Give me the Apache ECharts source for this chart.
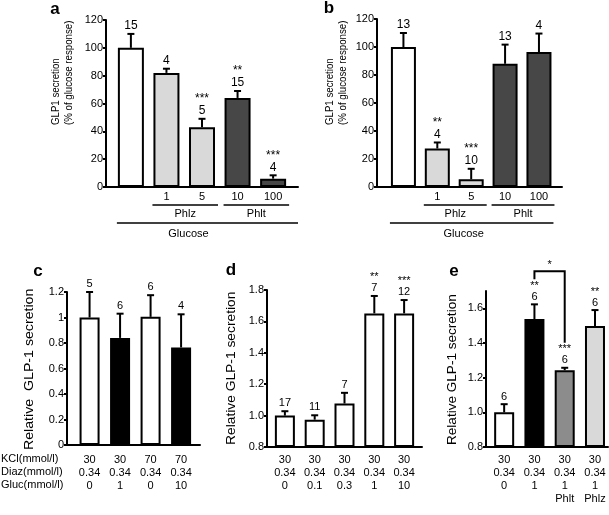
<!DOCTYPE html>
<html><head><meta charset="utf-8">
<script src="https://cdn.jsdelivr.net/npm/echarts@6/dist/echarts.min.js"></script>
<style>html,body{margin:0;padding:0;background:#fff}#c{width:609px;height:515px}</style>
</head><body><div id="c"></div>
<script>
const FONT = "'Liberation Sans', Arial, Helvetica, sans-serif";

// ---------- Panel a ----------
const aXLabels = ['', '1', '5', '10', '100'];
const aValues = [100, 82, 43, 64, 6];
const aErrors = [10, 3, 6, 5, 2.4];
const aN = ['15', '4', '5', '15', '4'];
const aStars = ['', '', '***', '**', '***'];
const aColors = ['#ffffff', '#d9d9d9', '#d9d9d9', '#474747', '#474747'];
const aGroupNames = ['Phlz', 'Phlt'];
const aGroupFirst = [1, 3];
const aGroupLast = [2, 4];
const aOuterName = 'Glucose';

// ---------- Panel b ----------
const bXLabels = ['', '1', '5', '10', '100'];
const bValues = [100, 27.5, 5.5, 88, 96.4];
const bErrors = [10, 4.3, 7.5, 13.7, 13.2];
const bN = ['13', '4', '10', '13', '4'];
const bStars = ['', '**', '***', '', ''];
const bColors = ['#ffffff', '#d9d9d9', '#d9d9d9', '#474747', '#474747'];
const bGroupNames = ['Phlz', 'Phlt'];
const bGroupFirst = [1, 3];
const bGroupLast = [2, 4];
const bOuterName = 'Glucose';

const abYTicks = [0, 20, 40, 60, 80, 100, 120];
const abYTitle = 'GLP1 secretion\n(% of glucose response)';

// ---------- Panel c ----------
const cKCl = ['30', '30', '70', '70'];
const cDiaz = ['0.34', '0.34', '0.34', '0.34'];
const cGluc = ['0', '1', '0', '10'];
const cValues = [1.0, 0.84, 1.005, 0.765];
const cErrors = [0.2, 0.19, 0.17, 0.26];
const cN = ['5', '6', '6', '4'];
const cStars = ['', '', '', ''];
const cColors = ['#ffffff', '#000000', '#ffffff', '#000000'];
const cYTicks = [0, 0.2, 0.4, 0.6, 0.8, 1, 1.2];
const cYTitle = 'Relative  GLP-1 secretion';
const rowHeaders = ['KCl(mmol/l)', 'Diaz(mmol/l)', 'Gluc(mmol/l)'];

// ---------- Panel d ----------
const dKCl = ['30', '30', '30', '30', '30'];
const dDiaz = ['0.34', '0.34', '0.34', '0.34', '0.34'];
const dGluc = ['0', '0.1', '0.3', '1', '10'];
const dValues = [1.0, 0.974, 1.077, 1.651, 1.651];
const dErrors = [0.028, 0.028, 0.068, 0.111, 0.085];
const dN = ['17', '11', '7', '7', '12'];
const dStars = ['', '', '', '**', '***'];
const dColors = ['#ffffff', '#ffffff', '#ffffff', '#ffffff', '#ffffff'];
const dYTicks = [0.8, 1.0, 1.2, 1.4, 1.6, 1.8];

// ---------- Panel e ----------
const eKCl = ['30', '30', '30', '30'];
const eDiaz = ['0.34', '0.34', '0.34', '0.34'];
const eGluc = ['0', '1', '1', '1'];
const eInhibitor = ['', '', 'Phlt', 'Phlz'];
const eValues = [1.0, 1.538, 1.243, 1.498];
const eErrors = [0.047, 0.085, 0.014, 0.092];
const eN = ['6', '6', '6', '6'];
const eStars = ['', '**', '***', '**'];
const eColors = ['#ffffff', '#000000', '#8c8c8c', '#d9d9d9'];
const eYTicks = [0.8, 1.0, 1.2, 1.4, 1.6];
const eCompare = [1, 2];
const eCompareLabel = '*';
const deYTitle = 'Relative GLP-1 secretion';

const option = {
  animation: false, backgroundColor: '#ffffff',
  textStyle: { fontFamily: FONT },
  grid: [], xAxis: [], yAxis: [], series: [], graphic: []
};

function addPanel(p) {
  const gi = option.grid.length;
  option.grid.push({ left: p.rect[0], top: p.rect[1], width: p.rect[2], height: p.rect[3], containLabel: false, outerBoundsMode: 'none' });
  const idx = p.values.map((_, i) => i);
  option.xAxis.push({
    gridIndex: gi, type: 'value', min: p.xMin, max: p.xMax,
    axisLine: { onZero: false, lineStyle: { color: '#000', width: 2 } },
    axisTick: { show: false }, splitLine: { show: false },
    axisLabel: { customValues: idx, formatter: v => p.xLabel(Math.round(v)), color: '#000',
      fontSize: p.xFont, lineHeight: p.xLineHeight, margin: p.xMargin, fontFamily: FONT }
  });
  option.yAxis.push({
    gridIndex: gi, type: 'value', min: p.yMin, max: p.yMax, interval: p.yInterval, startValue: p.yMin,
    axisLine: { show: true, onZero: false, lineStyle: { color: '#000', width: 2 } },
    axisTick: { show: true, length: 3, lineStyle: { color: '#000', width: 2 }, customValues: p.yTicks },
    axisLabel: { customValues: p.yTicks, formatter: p.yFmt, color: '#000', fontSize: 11, margin: 3, fontFamily: FONT },
    splitLine: { show: false }
  });
  option.series.push({
    type: 'bar', xAxisIndex: gi, yAxisIndex: gi, barWidth: p.barWidth, clip: true, silent: true,
    itemStyle: { borderColor: '#000', borderWidth: p.border },
    data: p.values.map((v, i) => ({ value: [i, v], itemStyle: { color: p.colors[i] } }))
  });
  option.series.push({
    type: 'custom', xAxisIndex: gi, yAxisIndex: gi, clip: false, silent: true, z: 5,
    data: p.values.map((v, i) => [i, v, v + p.errors[i]]),
    renderItem: (params, api) => {
      const i = params.dataIndex;
      const x = api.value(0);
      const b = api.coord([x, api.value(1)]);
      const t = api.coord([x, api.value(2)]);
      const ch = [
        { type: 'line', shape: { x1: b[0], y1: b[1], x2: t[0], y2: t[1] }, style: { stroke: '#000', lineWidth: 2 } },
        { type: 'line', shape: { x1: t[0] - 3.5, y1: t[1], x2: t[0] + 3.5, y2: t[1] }, style: { stroke: '#000', lineWidth: 2 } },
        { type: 'text', x: t[0], y: t[1] - p.nGap, style: { text: p.n[i], fill: '#000', font: p.nFont + 'px ' + FONT, align: 'center', verticalAlign: 'middle' } }
      ];
      if (p.stars[i]) ch.push({ type: 'text', x: t[0], y: t[1] - p.nGap - p.starGap,
        style: { text: p.stars[i], fill: '#000', font: p.nFont + 'px ' + FONT, align: 'center', verticalAlign: 'middle' } });
      return { type: 'group', children: ch };
    }
  });
  if (p.groupNames) {
    option.series.push({
      type: 'custom', xAxisIndex: gi, yAxisIndex: gi, clip: false, silent: true,
      data: p.groupFirst.map((f, k) => [f, p.groupLast[k]]),
      renderItem: (params, api) => {
        const k = params.dataIndex;
        const y0 = api.coord([0, p.yMin])[1];
        const half = p.barWidth / 2;
        const x1 = api.coord([api.value(0), p.yMin])[0] - half - 1;
        const x2 = api.coord([api.value(1), p.yMin])[0] + half + 3;
        const ch = [
          { type: 'line', shape: { x1: x1, y1: y0 + 18, x2: x2, y2: y0 + 18 }, style: { stroke: '#000', lineWidth: 1.6 } },
          { type: 'text', x: (x1 + x2) / 2, y: y0 + 27, style: { text: p.groupNames[k], fill: '#000', font: '11px ' + FONT, align: 'center', verticalAlign: 'middle' } }
        ];
        if (k === 0) {
          const n = p.values.length;
          const ox1 = api.coord([0, p.yMin])[0] - half - 1;
          const ox2 = p.outerToAxisEnd ? api.coord([p.xMax, p.yMin])[0] : api.coord([n - 1, p.yMin])[0] + half + 2;
          ch.push({ type: 'line', shape: { x1: ox1, y1: y0 + 36, x2: ox2, y2: y0 + 36 }, style: { stroke: '#000', lineWidth: 1.6 } });
          ch.push({ type: 'text', x: api.coord([p.outerLabelAt, p.yMin])[0], y: y0 + 47,
            style: { text: p.outerName, fill: '#000', font: '11px ' + FONT, align: 'center', verticalAlign: 'middle' } });
        }
        return { type: 'group', children: ch };
      }
    });
  }
  if (p.compare) {
    option.series.push({
      type: 'custom', xAxisIndex: gi, yAxisIndex: gi, clip: false, silent: true,
      data: [[p.compare[0], p.compare[1]]],
      renderItem: (params, api) => {
        const i1 = api.value(0), i2 = api.value(1);
        const t1 = api.coord([i1, p.values[i1] + p.errors[i1]]);
        const t2 = api.coord([i2, p.values[i2] + p.errors[i2]]);
        const top = Math.min(t1[1], t2[1]) - 33;
        return { type: 'group', children: [
          { type: 'polyline', shape: { points: [[t1[0], t1[1] - 25], [t1[0], top], [t2[0], top], [t2[0], t2[1] - 25]] }, style: { stroke: '#000', lineWidth: 2, fill: null } },
          { type: 'text', x: (t1[0] + t2[0]) / 2, y: top - 6, style: { text: p.compareLabel, fill: '#000', font: '11px ' + FONT, align: 'center', verticalAlign: 'middle' } }
        ] };
      }
    });
  }
}

// a
addPanel({ rect: [106, 20, 192, 167], xMin: -0.7, xMax: 4.7, yMin: 0, yMax: 120, yInterval: 20, yTicks: abYTicks,
  yFmt: v => String(v), values: aValues, errors: aErrors, n: aN, stars: aStars, colors: aColors, barWidth: 26, border: 2,
  xLabel: i => aXLabels[i], xFont: 11, xLineHeight: 12, xMargin: 4, nFont: 12, nGap: 8, starGap: 12,
  groupNames: aGroupNames, groupFirst: aGroupFirst, groupLast: aGroupLast, outerName: aOuterName, outerToAxisEnd: true, outerLabelAt: 1.62 });
// b
addPanel({ rect: [377, 19, 185, 168], xMin: -0.78, xMax: 4.68, yMin: 0, yMax: 120, yInterval: 20, yTicks: abYTicks,
  yFmt: v => String(v), values: bValues, errors: bErrors, n: bN, stars: bStars, colors: bColors, barWidth: 25, border: 2,
  xLabel: i => bXLabels[i], xFont: 11, xLineHeight: 12, xMargin: 4, nFont: 12, nGap: 8, starGap: 12,
  groupNames: bGroupNames, groupFirst: bGroupFirst, groupLast: bGroupLast, outerName: bOuterName, outerToAxisEnd: false, outerLabelAt: 1.78 });
// c
addPanel({ rect: [67, 292, 133, 153], xMin: -0.74, xMax: 3.62, yMin: 0, yMax: 1.2, yInterval: 0.2, yTicks: cYTicks,
  yFmt: v => String(+v.toFixed(1)), values: cValues, errors: cErrors, n: cN, stars: cStars, colors: cColors, barWidth: 20, border: 2,
  xLabel: i => [cKCl[i], cDiaz[i], cGluc[i]].join('\n'), xFont: 11, xLineHeight: 13, xMargin: 8, nFont: 11, nGap: 8, starGap: 11 });
// d
addPanel({ rect: [267, 290, 155, 157], xMin: -0.6, xMax: 4.6, yMin: 0.8, yMax: 1.8, yInterval: 0.2, yTicks: dYTicks,
  yFmt: v => v.toFixed(1), values: dValues, errors: dErrors, n: dN, stars: dStars, colors: dColors, barWidth: 20, border: 2,
  xLabel: i => [dKCl[i], dDiaz[i], dGluc[i]].join('\n'), xFont: 11, xLineHeight: 13, xMargin: 6, nFont: 11, nGap: 8, starGap: 11 });
// e
addPanel({ rect: [486, 291, 122, 156], xMin: -0.6, xMax: 3.43, yMin: 0.8, yMax: 1.7, yInterval: 0.2, yTicks: eYTicks,
  yFmt: v => v.toFixed(1), values: eValues, errors: eErrors, n: eN, stars: eStars, colors: eColors, barWidth: 20, border: 2,
  xLabel: i => [eKCl[i], eDiaz[i], eGluc[i], eInhibitor[i]].join('\n'), xFont: 11, xLineHeight: 13, xMargin: 6, nFont: 11, nGap: 7.5, starGap: 11,
  compare: eCompare, compareLabel: eCompareLabel });

// panel letters
const letterStyle = { font: 'bold 17px ' + FONT, fill: '#000', align: 'center', verticalAlign: 'middle' };
[['a', 55, 9], ['b', 329, 8], ['c', 38, 271], ['d', 231, 270], ['e', 454, 271]].forEach(l => {
  option.graphic.push({ type: 'text', x: l[1], y: l[2], silent: true, style: Object.assign({ text: l[0] }, letterStyle) });
});
// y-axis titles
function yTitle(text, x, yBottom, size, sx, lh) {
  option.graphic.push({ type: 'text', x: x, y: yBottom, rotation: Math.PI / 2, scaleX: sx, silent: true,
    style: { text: text, font: size + 'px ' + FONT, fill: '#000', align: 'left', verticalAlign: 'middle', lineHeight: lh } });
}
yTitle(abYTitle, 62.5, 125, 11, 0.88, 13);
yTitle(abYTitle, 336, 125, 11, 0.88, 13);
yTitle(cYTitle, 30, 450, 12, 1.18, 14);
yTitle(deYTitle, 232, 445, 12, 1.15, 14);
yTitle(deYTitle, 453, 445, 12, 1.13, 14);
// row headers
rowHeaders.forEach((h, k) => {
  option.graphic.push({ type: 'text', x: 1, y: 459 + 13 * k, silent: true,
    style: { text: h, font: '11px ' + FONT, fill: '#000', align: 'left', verticalAlign: 'middle' } });
});

const chart = echarts.init(document.getElementById('c'), null, { renderer: 'canvas' });
chart.setOption(option);
</script></body></html>
